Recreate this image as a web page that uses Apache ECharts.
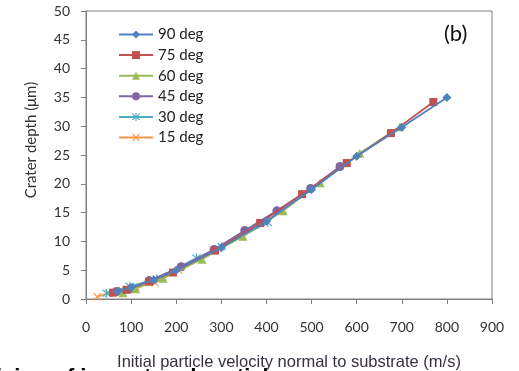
<!DOCTYPE html>
<html>
<head>
<meta charset="utf-8">
<script src="https://cdn.jsdelivr.net/npm/echarts@6/dist/echarts.min.js"></script>
<style>
  html, body { margin: 0; padding: 0; background: #fff; }
  #chart { width: 519px; height: 371px; }
</style>
</head>
<body>
<div id="chart"></div>
<script>
// values (velocity m/s, depth µm)
const v90 = [70, 100, 150, 200, 300, 400, 500, 600, 700, 800]
const d90 = [1.3, 2.0, 3.3, 5.0, 8.9, 13.5, 19.0, 24.8, 29.8, 35.0]
const v75 = [60, 90, 140, 193, 286, 386, 479, 578, 676, 770]
const d75 = [1.1, 1.6, 3.0, 4.6, 8.4, 13.2, 18.2, 23.6, 28.8, 34.2]
const v60 = [82, 110, 171, 257, 348, 437, 519, 607, 696]
const d60 = [1.1, 1.8, 3.6, 6.9, 10.9, 15.3, 20.2, 25.3, 29.9]
const v45 = [68, 100, 140, 211, 284, 352, 423, 498, 563]
const d45 = [1.3, 1.8, 3.2, 5.6, 8.6, 11.9, 15.3, 19.2, 23.0]
const v30 = [46, 97, 157, 245, 301, 403]
const d30 = [1.0, 2.2, 3.5, 7.1, 9.1, 13.3]
const v15 = [25, 50, 80, 110, 153, 205]
const d15 = [0.4, 1.0, 1.5, 2.1, 2.8, 5.0]

const names = ['90 deg', '75 deg', '60 deg', '45 deg', '30 deg', '15 deg']
const colors = ['#4F81BD', '#C0504D', '#9BBB59', '#8064A2', '#4BACC6', '#F79646']

const crossPath = 'path://M0,1 L1,0 L5,4 L9,0 L10,1 L6,5 L10,9 L9,10 L5,6 L1,10 L0,9 L4,5 Z'
const starPath = 'path://M0,1 L1,0 L5,4 L9,0 L10,1 L6,5 L10,9 L9,10 L5,6 L1,10 L0,9 L4,5 Z M4.4,-1 L5.6,-1 L5.6,11 L4.4,11 Z'
const symbols = ['diamond', 'rect', 'triangle', 'circle', starPath, crossPath]
const sizes = [9, 8, 9, 9, 9, 8]

const xs = [v90, v75, v60, v45, v30, v15]
const ys = [d90, d75, d60, d45, d30, d15]

const chart = echarts.init(document.getElementById('chart'))

const series = names.map((n, i) => ({
  name: n,
  type: 'line',
  data: xs[i].map((x, j) => [x, ys[i][j]]),
  symbol: symbols[i],
  symbolSize: sizes[i],
  showSymbol: true,
  lineStyle: { width: 1.8, color: colors[i] },
  itemStyle: { color: colors[i] },
  z: 10 - i
}))

chart.setOption({
  animation: false,
  grid: {
    left: 86, right: 27, top: 11, bottom: 72,
    outerBoundsMode: 'none',
    show: true, borderColor: '#7f7f7f', borderWidth: 1
  },
  legend: {
    orient: 'vertical',
    left: 113, top: 22,
    itemWidth: 34, itemHeight: 10, itemGap: 5.6,
    textStyle: { fontFamily: 'Lato', fontSize: 15, color: '#222', lineHeight: 14 },
    data: names
  },
  xAxis: {
    type: 'value', min: 0, max: 900, interval: 100,
    name: 'Initial particle velocity normal to substrate (m/s)',
    nameLocation: 'middle', nameGap: 55,
    nameTextStyle: { fontFamily: 'Liberation Sans', fontSize: 16.5, color: '#3a3040' },
    axisLine: { lineStyle: { color: '#7f7f7f' } },
    axisTick: { show: true, inside: false, length: 5, lineStyle: { color: '#7f7f7f' } },
    axisLabel: { fontFamily: 'Lato', fontSize: 14, color: '#333', margin: 21 },
    splitLine: { show: false }
  },
  yAxis: {
    type: 'value', min: 0, max: 50, interval: 5,
    axisLine: { show: true, lineStyle: { color: '#7f7f7f' } },
    axisTick: { show: true, inside: false, length: 5, lineStyle: { color: '#7f7f7f' } },
    axisLabel: { fontFamily: 'Lato', fontSize: 14, color: '#333', margin: 16 },
    splitLine: { show: false }
  },
  graphic: [
    {
      type: 'text', x: 31, y: 140, rotation: Math.PI / 2,
      style: { text: 'Crater depth (μm)', fontFamily: 'Lato', fontSize: 15, fill: '#333', align: 'center', verticalAlign: 'middle' }
    },
    {
      type: 'text', left: 444, top: 23,
      style: { text: '(b)', fontFamily: 'Lato', fontSize: 22, fill: '#111' }
    },
    {
      type: 'text', left: -4, top: 367,
      style: { text: 'ision of impact and particle', fontFamily: 'Liberation Sans', fontWeight: 'bold', fontSize: 22, fill: '#000' }
    }
  ],
  series
})
</script>
</body>
</html>
